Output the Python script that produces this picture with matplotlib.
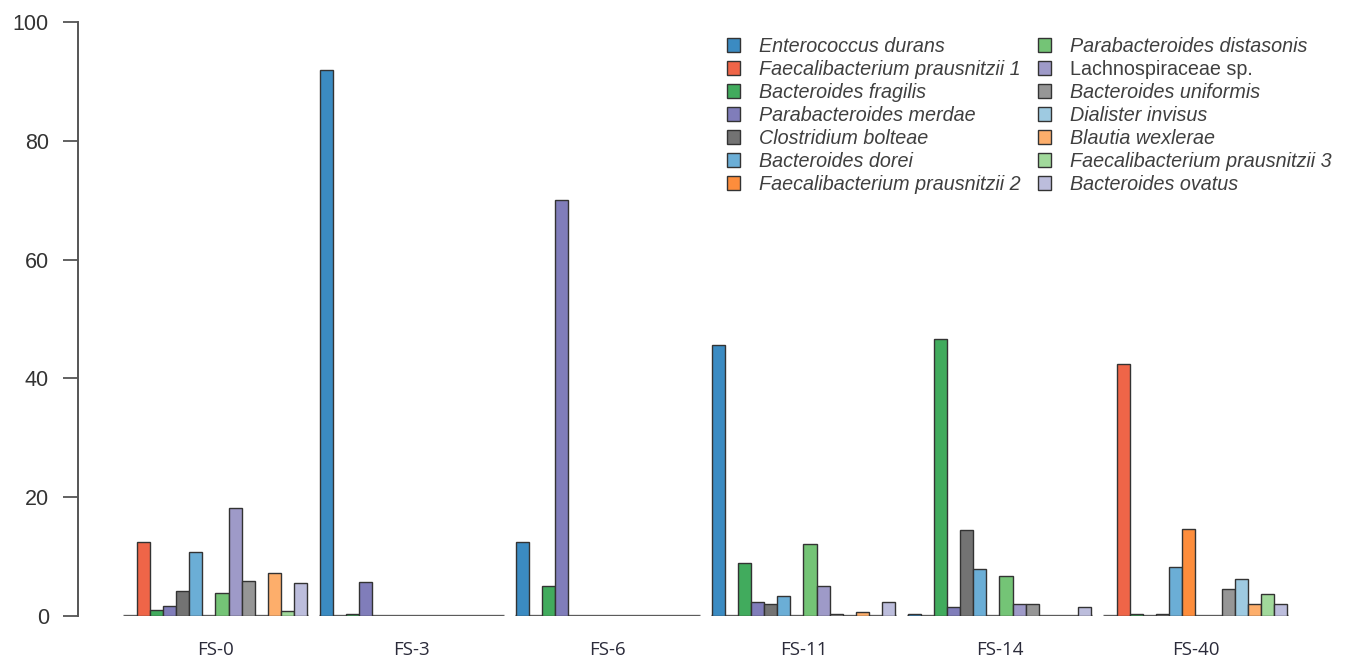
import matplotlib
matplotlib.use('Agg')
from matplotlib import pyplot as plt
from matplotlib.patches import Patch

species = ['Enterococcus durans', 'Faecalibacterium prausnitzii 1', 'Bacteroides fragilis',
           'Parabacteroides merdae', 'Clostridium bolteae', 'Bacteroides dorei',
           'Faecalibacterium prausnitzii 2', 'Parabacteroides distasonis', 'Lachnospiraceae sp.',
           'Bacteroides uniformis', 'Dialister invisus', 'Blautia wexlerae',
           'Faecalibacterium prausnitzii 3', 'Bacteroides ovatus']
colors = ['#3b8bc2', '#ef6548', '#41ab5d', '#807dba', '#737373', '#6baed6', '#fd8d3c',
          '#74c476', '#9e9ac8', '#969696', '#9ecae1', '#fdae6b', '#a1d99b', '#bcbddc']

samples = ['FS-0', 'FS-3', 'FS-6', 'FS-11', 'FS-14', 'FS-40']
fs0 = [0, 12.5, 1.0, 1.7, 4.2, 10.8, 0, 3.8, 18.2, 5.9, 0, 7.2, 0.8, 5.5]
fs3 = [91.9, 0, 0.3, 5.7, 0, 0, 0, 0, 0, 0, 0, 0, 0, 0]
fs6 = [12.5, 0, 5.1, 70.0, 0, 0, 0, 0, 0, 0, 0, 0, 0, 0]
fs11 = [45.6, 0, 8.9, 2.4, 2.1, 3.4, 0, 12.2, 5.1, 0.3, 0, 0.7, 0, 2.4]
fs14 = [0.3, 0, 46.6, 1.5, 14.5, 7.9, 0, 6.8, 2.0, 2.1, 0, 0, 0, 1.5]
fs40 = [0, 42.5, 0.3, 0, 0.4, 8.2, 14.6, 0, 0, 4.5, 6.3, 2.1, 3.7, 2.0]
values = [fs0, fs3, fs6, fs11, fs14, fs40]

plt.rcParams['font.family'] = ['Liberation Sans', 'DejaVu Sans']

W, H = 1350, 666
fig = plt.figure(figsize=(W / 100, H / 100), dpi=100)
ax = fig.add_axes([78 / W, 1 - 616 / H, 1222 / W, 594 / H])

n = len(species)
step = n + 1  # one empty slot between groups
centers = []
for g, vals in enumerate(values):
    start = g * step
    xs = [start + j + 0.5 for j in range(n)]
    ax.bar(xs, vals, width=1.0, color=colors, edgecolor='#333333', linewidth=1.0, zorder=3)
    ax.plot([start - 0.05, start + n + 0.05], [0, 0], color='#666666', lw=2.4,
            solid_capstyle='butt', zorder=2)
    centers.append(start + n / 2)

ax.set_xlim(-3.52, 90)
ax.set_ylim(0, 100)
ax.set_yticks([0, 20, 40, 60, 80, 100])
ax.set_xticks(centers)
ax.set_xticklabels(samples, fontfamily='Open Sans', fontsize=13.5, color='#2b2b3a')
ax.tick_params(axis='x', length=0, pad=18)
ax.tick_params(axis='y', length=11, width=1.3, color='#555555', pad=10,
               labelsize=15.5, labelcolor='#333333')
for s in ['top', 'right', 'bottom']:
    ax.spines[s].set_visible(False)
ax.spines['left'].set_color('#555555')
ax.spines['left'].set_linewidth(1.4)

handles = [Patch(facecolor=c, edgecolor='#333333', linewidth=1.0) for c in colors]
leg = ax.legend(handles, species, ncol=2, frameon=False, loc='upper left',
                bbox_to_anchor=(727 / W, 1 - 37 / H), bbox_transform=fig.transFigure,
                fontsize=14.2, handlelength=0.68, handleheight=0.68, handletextpad=0.95,
                labelspacing=0.2, columnspacing=0.85, borderpad=0, borderaxespad=0)
for t in leg.get_texts():
    t.set_color('#3f3f3f')
    if t.get_text() != 'Lachnospiraceae sp.':
        t.set_fontstyle('italic')

fig.savefig('out.png', dpi=100, facecolor='white')
